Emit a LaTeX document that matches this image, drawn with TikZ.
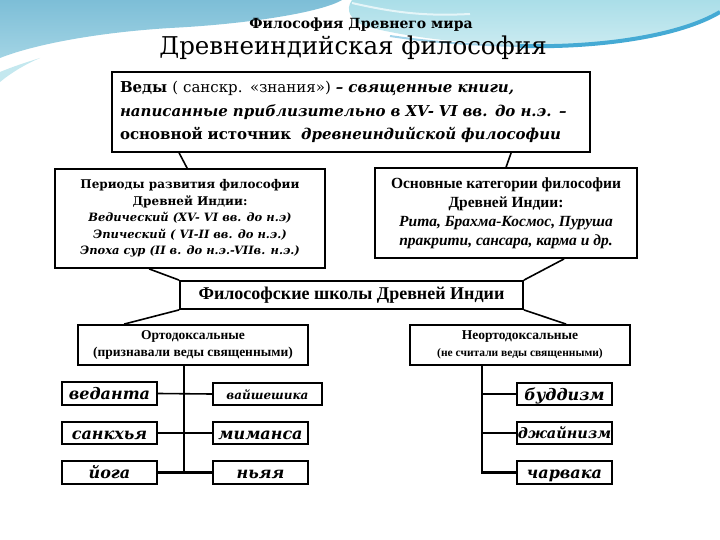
\documentclass[tikz,border=0pt]{standalone}
\usepackage{fontspec}
\setmainfont{DejaVu Serif}
\newfontfamily\tms{Liberation Serif}
\definecolor{bgblue}{HTML}{7DBED7}
\definecolor{bgblue2}{HTML}{A2D4E4}
\definecolor{bgcyan}{HTML}{AADEE8}
\definecolor{bgstripe}{HTML}{45AAD4}
\begin{document}
\begin{tikzpicture}[x=1pt,y=-1pt,
  frame/.style={draw=black,line width=1.8pt,fill=white,inner sep=0pt},
  box/.style={frame,align=center},
  conn/.style={line width=1.6pt,black},
  thick conn/.style={line width=2.6pt,black}]
\useasboundingbox (0,0) rectangle (720,540);
\fill[white] (0,0) rectangle (720,540);
% background swooshes
\shade[top color=bgblue, bottom color=bgblue2]
  (0,0) -- (342,0) .. controls (322,12) and (250,24) .. (170,28)
  .. controls (90,33) and (30,46) .. (0,58) -- cycle;
\fill[bgcyan!70!white] (0,82) -- (0,72) .. controls (12,67) and (24,63) .. (40,58)
  .. controls (26,64) and (12,72) .. (0,82) -- cycle;
\shade[top color=bgcyan, bottom color=bgcyan!60!white] (352,0) -- (720,0) -- (720,12)
  .. controls (680,36) and (600,48) .. (530,46)
  .. controls (460,44) and (400,36) .. (365,26)
  .. controls (350,20) and (345,10) .. (352,0) -- cycle;
\draw[line width=2pt,white!70!bgcyan] (352,3) .. controls (400,14) and (430,16) .. (470,14);
\draw[line width=4pt,bgstripe] (720,12)
  .. controls (680,36) and (600,48) .. (520,46);
\draw[line width=2pt,bgstripe!50!white] (520,46) .. controls (470,45) and (430,42) .. (390,36);
% titles
\node (t1) at (361,25) {\bfseries\fontsize{14}{16}\selectfont Философия Древнего мира};
\node (t2) at (353,48) {\fontsize{24.5}{28}\selectfont Древнеиндийская философия};
% Vedas
\node[box,minimum width=478,minimum height=80,text width=462,align=left,inner xsep=8pt,
  font=\fontsize{15}{23.5}\selectfont] (vedas) at (351,112)
 {\textbf{Веды} ( санскр. «знания») \textbf{\itshape – священные книги,}\\
  \textbf{\itshape написанные приблизительно в XV- VI вв. до н.э. –}\\
  \textbf{основной источник}\ \ \textbf{\itshape древнеиндийской философии}};
% Periods
\node[box,minimum width=270,minimum height=99,font=\fontsize{12}{16.5}\selectfont] (periods) at (190,218.5)
 {\bfseries Периоды развития философии\\
  \bfseries Древней Индии:\\
  \bfseries\itshape\fontsize{11.5}{16.5}\selectfont Ведический (XV- VI вв. до н.э)\\
  \bfseries\itshape\fontsize{11.5}{16.5}\selectfont Эпический ( VI-II вв. до н.э.)\\
  \bfseries\itshape\fontsize{11.5}{16.5}\selectfont Эпоха сур (II в. до н.э.-VIIв. н.э.)};
% Categories
\node[box,minimum width=262,minimum height=90,font=\tms\bfseries\fontsize{15.5}{19}\selectfont] (cats) at (506,213)
 {Основные категории философии\\
  Древней Индии:\\
  \itshape Рита, Брахма-Космос, Пуруша\\
  \itshape пракрити, сансара, карма и др.};
% Schools
\node[box,minimum width=343,minimum height=28,font=\tms\bfseries\fontsize{18}{20}\selectfont] (schools) at (351.5,295)
 {Философские школы Древней Индии};
% Orthodox / Non-orthodox
\node[box,minimum width=230,minimum height=40,font=\tms\bfseries\fontsize{13.5}{17}\selectfont] (ortho) at (193,345)
 {Ортодоксальные\\(признавали веды священными)};
\node[box,minimum width=220,minimum height=40,font=\tms\bfseries\fontsize{13.5}{17}\selectfont] (neo) at (520,345)
 {Неортодоксальные\\\fontsize{11.5}{14}\selectfont(не считали веды священными)};
% schools boxes
\tikzset{school/.style={frame,minimum width=95,minimum height=22.5,text height=12,text depth=0pt,
  font=\bfseries\itshape\fontsize{16}{18}\selectfont}}
\node[school] (vedanta) at (109.5,393.5) {веданта};
\node[school] (sankhya) at (109.5,433) {санкхья};
\node[school] (yoga) at (109.5,472.5) {йога};
\node[school,minimum width=109,text height=10,font=\bfseries\itshape\fontsize{12}{15}\selectfont] (vaish) at (267.5,394) {вайшешика};
\node[school] (mimansa) at (260.5,433) {миманса};
\node[school] (nyaya) at (260.5,472.5) {ньяя};
\node[school] (buddh) at (564.5,394) {буддизм};
\node[school,text height=11.5,font=\bfseries\itshape\fontsize{14.5}{17}\selectfont] (jain) at (564.5,433) {джайнизм};
\node[school] (charv) at (564.5,472.5) {чарвака};
% connectors
\draw[conn] ([xshift=68pt]vedas.south west) -- ([xshift=133pt]periods.north west);
\draw[conn] ([xshift=400pt]vedas.south west) -- ([xshift=132pt]cats.north west);
\draw[conn] ([xshift=95pt]periods.south west) -- (schools.north west);
\draw[conn] ([xshift=190pt]cats.south west) -- (schools.north east);
\draw[conn] (schools.south west) -- ([xshift=47pt]ortho.north west);
\draw[conn] (schools.south east) -- ([xshift=157pt]neo.north west);
% orthodox tree
\coordinate (otop) at ([xshift=107pt]ortho.south west);
\draw[thick conn] (otop) -- (otop |- yoga.east);
\draw[conn] (vedanta.east) -- (vaish.west);
\draw[conn] (sankhya.east) -- (mimansa.west);
\draw[thick conn] (yoga.east) -- (nyaya.west);
% non-orthodox tree
\coordinate (ntop) at ([xshift=73pt]neo.south west);
\draw[thick conn] (ntop) |- (charv.west);
\draw[conn] (ntop |- buddh.west) -- (buddh.west);
\draw[conn] (ntop |- jain.west) -- (jain.west);
\end{tikzpicture}
\end{document}
